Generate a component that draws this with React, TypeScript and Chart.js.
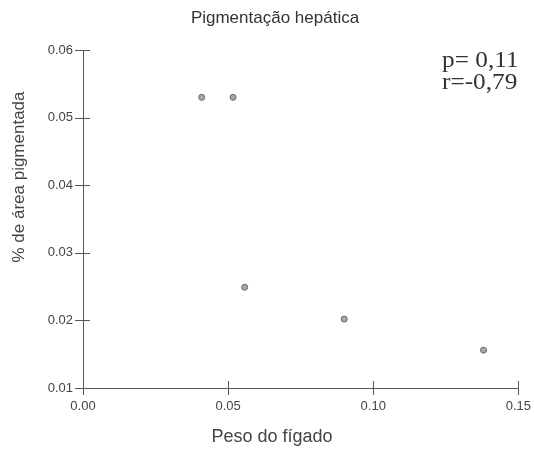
import React, { useEffect, useRef } from "react";
import { Chart, registerables } from "chart.js";

Chart.register(...registerables);

const pesoFigado = [0.0409, 0.0517, 0.0557, 0.09, 0.138];
const areaPigmentada = [0.053, 0.053, 0.0249, 0.0202, 0.0156];
const xTicks = [0, 0.05, 0.1, 0.15];
const yTicks = [0.01, 0.02, 0.03, 0.04, 0.05, 0.06];
const titleText = "Pigmentação hepática";
const xTitle = "Peso do fígado";
const yTitle = "% de área pigmentada";
const statLines = ["p= 0,11", "r=-0,79"];

const AXIS_COLOR = "#555555";
const TEXT_COLOR = "#444444";

const annotations = {
  id: "annotations",
  afterDraw(chart: any) {
    const ctx = chart.ctx;
    const xs = chart.scales.x;
    const ys = chart.scales.y;
    const area = chart.chartArea;
    ctx.save();
    // crossing tick marks
    ctx.strokeStyle = AXIS_COLOR;
    ctx.lineWidth = 1;
    ctx.beginPath();
    xs.ticks.forEach((_t: any, i: number) => {
      const px = Math.round(xs.getPixelForTick(i)) + 0.5;
      ctx.moveTo(px, area.bottom - 7);
      ctx.lineTo(px, area.bottom + 7);
    });
    ys.ticks.forEach((_t: any, i: number) => {
      const py = Math.round(ys.getPixelForTick(i)) + 0.5;
      ctx.moveTo(area.left - 8, py);
      ctx.lineTo(area.left + 7, py);
    });
    ctx.stroke();

    // title
    ctx.fillStyle = "#333333";
    ctx.font = "17px 'Liberation Sans', Arial, sans-serif";
    ctx.textAlign = "center";
    ctx.textBaseline = "middle";
    ctx.fillText(titleText, 275, 18);

    // x title
    ctx.fillStyle = TEXT_COLOR;
    ctx.font = "18px 'Liberation Sans', Arial, sans-serif";
    ctx.fillText(xTitle, 272, 437);

    // y title
    ctx.save();
    ctx.font = "17px 'Liberation Sans', Arial, sans-serif";
    ctx.translate(19, 177);
    ctx.rotate(-Math.PI / 2);
    ctx.fillText(yTitle, 0, 0);
    ctx.restore();

    // stats
    ctx.fillStyle = "#333333";
    ctx.font = "23px 'Liberation Serif', 'Times New Roman', serif";
    ctx.textAlign = "left";
    ctx.textBaseline = "alphabetic";
    ctx.save();
    ctx.translate(442, 0);
    ctx.scale(1.1, 1);
    ctx.fillText(statLines[0], 0, 67);
    ctx.fillText(statLines[1], 0, 89);
    ctx.restore();
    ctx.restore();
  },
};

export default function App() {
  const ref = useRef<HTMLCanvasElement | null>(null);
  useEffect(() => {
    if (!ref.current) return;
    const chart = new Chart(ref.current, {
      type: "scatter",
      data: {
        datasets: [
          {
            data: pesoFigado.map((x, i) => ({ x, y: areaPigmentada[i] })),
            pointRadius: 3,
            pointBackgroundColor: "#a8a8a8",
            pointBorderColor: "#666666",
            pointBorderWidth: 1,
          },
        ],
      },
      options: {
        animation: false,
        responsive: false,
        maintainAspectRatio: false,
        layout: { padding: { top: 50, right: 14, left: 0, bottom: 0 } },
        plugins: {
          legend: { display: false },
          title: { display: false },
          tooltip: { enabled: false },
        },
        scales: {
          x: {
            type: "linear",
            min: 0,
            max: 0.15,
            afterBuildTicks: (s: any) => {
              s.ticks = xTicks.map((v) => ({ value: v }));
            },
            afterFit: (s: any) => {
              s.height = 62;
            },
            grid: { display: false, drawTicks: true, tickLength: 8 },
            border: { display: true, color: AXIS_COLOR, width: 1 },
            ticks: {
              padding: 3,
              color: TEXT_COLOR,
              font: { family: "'Liberation Sans', Arial, sans-serif", size: 13 },
              maxRotation: 0,
              callback: (v: any) => Number(v).toFixed(2),
            },
          },
          y: {
            type: "linear",
            min: 0.01,
            max: 0.06,
            afterBuildTicks: (s: any) => {
              s.ticks = yTicks.map((v) => ({ value: v }));
            },
            afterFit: (s: any) => {
              s.width = 83;
            },
            grid: { display: false, drawTicks: true, tickLength: 7 },
            border: { display: true, color: AXIS_COLOR, width: 1 },
            ticks: {
              padding: 3,
              color: TEXT_COLOR,
              font: { family: "'Liberation Sans', Arial, sans-serif", size: 13 },
              callback: (v: any) => Number(v).toFixed(2),
            },
          },
        },
      },
      plugins: [annotations],
    });
    return () => chart.destroy();
  }, []);
  return (
    <div style={{ position: "fixed", left: 0, top: 0, width: 534, height: 450, background: "#fff" }}>
      <canvas ref={ref} width={534} height={450} style={{ width: 534, height: 450 }} />
    </div>
  );
}
